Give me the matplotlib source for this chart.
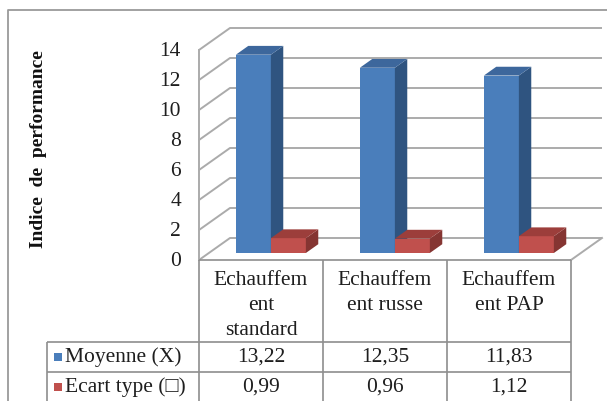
import matplotlib
matplotlib.use('Agg')
import matplotlib.pyplot as plt
from matplotlib.patches import Polygon, Rectangle

# ---------------- data ----------------
categories = ["Echauffem\nent\nstandard", "Echauffem\nent russe", "Echauffem\nent PAP"]
series_names = ["Moyenne (X)", "Ecart type (\u25a1)"]
moyenne = [13.22, 12.35, 11.83]
ecart_type = [0.99, 0.96, 1.12]
y_ticks = [0, 2, 4, 6, 8, 10, 12, 14]
y_label = "Indice  de  performance"

# ---------------- style ----------------
SERIF = ['Liberation Serif', 'DejaVu Serif']
front_cols = ['#4A7EBB', '#C0504D']
side_cols = ['#2F5480', '#853532']
top_cols = ['#3D679C', '#9C3E3B']
grid_col = '#ABABAB'
line_col = '#8E8E8E'
txt_col = '#1E1E1E'

W, H = 607, 401
fig = plt.figure(figsize=(W / 100, H / 100), dpi=100)

# main axes: front plane, category units in x, value units in y
X0, XS = 261.0, 124.0   # pixel of category 0 centre, pixels per category
Y0, YS = 260.0, 15.0    # pixel of value 0 on front plane, pixels per unit
ax = fig.add_axes([0, 0, 1, 1])
ax.set_xlim(-X0 / XS, (W - X0) / XS)
ax.set_ylim(-(H - Y0) / YS, Y0 / YS)
ax.axis('off')

DX = 31 / XS   # depth offset of back wall (category units)
DV = 22 / YS   # depth offset of back wall (value units)
n = len(categories)
xl_wall, xr_wall = -0.5, n - 0.5
vmax = y_ticks[-1]

# walls + gridlines
for t in y_ticks:
    ax.plot([xl_wall, xl_wall + DX, xr_wall + DX], [t, t + DV, t + DV],
            color=grid_col, lw=1.4, zorder=1, solid_capstyle='butt')
ax.plot([xl_wall, xl_wall], [0, vmax], color=grid_col, lw=1.4, zorder=1)
ax.plot([xr_wall, xr_wall + DX], [0, DV], color=grid_col, lw=1.4, zorder=1)

# tick labels
for t in y_ticks:
    ax.annotate(str(t), xy=(xl_wall, t), xytext=(-18, -2), textcoords='offset pixels',
                ha='right', va='center', fontsize=15.5, family=SERIF, color=txt_col)

# bars
d0 = 7 / 22          # bar front plane as fraction of floor depth
bd = 0.40            # bar depth fraction
w = 35 / XS
series = [moyenne, ecart_type]
for s, vals in enumerate(series):
    lefts = [c + d0 * DX + (s - 1) * w for c in range(n)]
    bars = ax.bar(lefts, vals, width=w, bottom=d0 * DV, align='edge',
                  color=front_cols[s], lw=0)
    for c, (b, v) in enumerate(zip(bars, vals)):
        z = 3 + 2 * c + s
        b.set_zorder(z)
        xl = b.get_x()
        xr = xl + b.get_width()
        y0 = b.get_y()
        y1 = y0 + b.get_height()
        ox, oy = bd * DX, bd * DV
        ax.add_patch(Polygon([(xr, y0), (xr + ox, y0 + oy), (xr + ox, y1 + oy), (xr, y1)],
                             closed=True, color=side_cols[s], lw=0, zorder=z))
        ax.add_patch(Polygon([(xl, y1), (xr, y1), (xr + ox, y1 + oy), (xl + ox, y1 + oy)],
                             closed=True, color=top_cols[s], lw=0, zorder=z))

# ---------------- layout overlay (pixel coordinates) ----------------
lay = fig.add_axes([0, 0, 1, 1], zorder=5)
lay.set_xlim(0, W)
lay.set_ylim(H, 0)
lay.axis('off')
lay.patch.set_visible(False)

# outer border of chart area
lay.plot([8, 8, W + 5], [H + 5, 10, 10], color='#9A9A9A', lw=1.3)

# y-axis title
lay.text(39, 149, y_label, rotation=90, ha='center', va='center',
         fontsize=14, fontweight='bold', family=SERIF, color='#111111')

# data table
col_x = [X0 + XS * (c - 0.5) for c in range(n + 1)]
lab_x = 47
row_y = [Y0, 342, 372, H + 5]
lk = dict(color=line_col, lw=1.2, solid_capstyle='butt')
lay.plot([col_x[0], col_x[-1]], [row_y[0], row_y[0]], **lk)
for y in row_y[1:3]:
    lay.plot([lab_x, col_x[-1]], [y, y], **lk)
lay.plot([col_x[0], col_x[0]], [row_y[0], row_y[-1]], **lk)
for x in col_x[1:]:
    lay.plot([x, x], [row_y[0], row_y[-1]], **lk)
lay.plot([lab_x, lab_x], [row_y[1], row_y[-1]], **lk)

for c, name in enumerate(categories):
    cx = (col_x[c] + col_x[c + 1]) / 2
    lay.text(cx, 271, name, ha='center', va='top', fontsize=15.5, family=SERIF,
             linespacing=1.42, color=txt_col)

row_centres = [357, 387]
for s, (nm, vals) in enumerate(zip(series_names, series)):
    yc = row_centres[s]
    lay.add_patch(Rectangle((54, yc - 4.5), 8, 8, color=front_cols[s], lw=0))
    lay.text(65, yc, nm, ha='left', va='center', fontsize=15.5, family=SERIF, color=txt_col)
    for c, v in enumerate(vals):
        cx = (col_x[c] + col_x[c + 1]) / 2
        lay.text(cx, yc, f"{v:.2f}".replace('.', ','), ha='center', va='center',
                 fontsize=15.5, family=SERIF, color=txt_col)

fig.savefig('out.png', dpi=100, facecolor='white')
